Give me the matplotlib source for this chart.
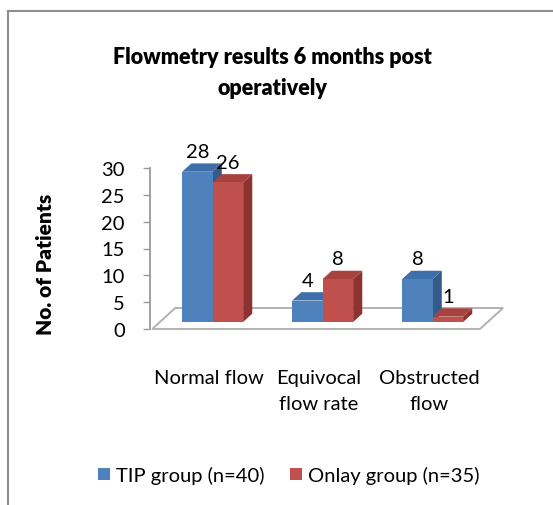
import matplotlib
matplotlib.use('Agg')
import matplotlib.pyplot as plt
from matplotlib.patches import Polygon, Patch
from matplotlib.lines import Line2D

plt.rcParams['font.family'] = ['Lato', 'DejaVu Sans']

categories = ['Normal flow', 'Equivocal\nflow rate', 'Obstructed\nflow']
tip_group = [28, 4, 8]
onlay_group = [26, 8, 1]
series_names = ['TIP group (n=40)', 'Onlay group (n=35)']
y_ticks = [0, 5, 10, 15, 20, 25, 30]

# face colours: front, top, side
colours = [('#4F81BD', '#3F6FA9', '#345A8A'),
           ('#C0504D', '#A8423F', '#8A3331')]

fig = plt.figure(figsize=(5.53, 5.06), dpi=100)
ax = fig.add_axes([150 / 553, 176 / 506, 363 / 553, 161 / 506])
ax.set_xlim(-0.5, 2.8)
ax.set_ylim(0, 30)

# fake 3d: depth of the floor in data units and where the bars sit in it
Dx, Dy = 23 / 110, 21 / (161 / 30)
f0, f1 = 0.333, 0.73
w = 0.277
sx, sy = (f1 - f0) * Dx, (f1 - f0) * Dy

# floor
fl, fr = -0.48, 2.5
floor = Polygon([(fl, 0), (fr, 0), (fr + Dx, Dy), (fl + Dx, Dy)], closed=True,
                facecolor='white', edgecolor='#b2b2b2', lw=1.4, zorder=1, clip_on=False)
ax.add_patch(floor)

for i in range(len(categories)):
    for j, vals in enumerate([tip_group, onlay_group]):
        v = vals[i]
        front, top, side = colours[j]
        x0 = i - w + j * w + f0 * Dx
        x1 = x0 + w
        y0 = f0 * Dy
        y1 = y0 + v
        ax.add_patch(Polygon([(x1, y0), (x1 + sx, y0 + sy), (x1 + sx, y1 + sy), (x1, y1)],
                             closed=True, facecolor=side, edgecolor='none', zorder=2, clip_on=False))
        ax.add_patch(Polygon([(x0, y1), (x1, y1), (x1 + sx, y1 + sy), (x0 + sx, y1 + sy)],
                             closed=True, facecolor=top, edgecolor='none', zorder=2, clip_on=False))
        ax.add_patch(Polygon([(x0, y0), (x1, y0), (x1, y1), (x0, y1)],
                             closed=True, facecolor=front, edgecolor='none', zorder=2, clip_on=False))
        ax.text((x0 + x1) / 2, y1 + 3.8, str(v), ha='center', va='center',
                fontsize=14.5, color='black', zorder=3)

for s in ['top', 'right', 'bottom']:
    ax.spines[s].set_visible(False)
ax.spines['left'].set_color('#9a9a9a')
ax.spines['left'].set_linewidth(1.3)
ax.set_yticks(y_ticks)
ax.tick_params(axis='y', direction='out', length=5, width=1, color='#9a9a9a',
               labelsize=14.5, pad=13)
ax.set_xticks([i + 0.035 for i in range(len(categories))])
ax.set_xticklabels(categories, fontsize=14.5, linespacing=1.6)
ax.tick_params(axis='x', length=0, pad=29)
ax.set_facecolor('none')

fig.text(46 / 553, 1 - 264 / 506, 'No. of Patients', rotation=90, ha='center', va='center',
         fontsize=15, fontweight='heavy')
fig.text(272 / 553, 1 - 73 / 506, 'Flowmetry results 6 months post\noperatively',
         ha='center', va='center', fontsize=15.5, fontweight='heavy', linespacing=1.55)

handles = [Patch(facecolor=colours[0][0]), Patch(facecolor=colours[1][0])]
fig.legend(handles, series_names, loc='center', bbox_to_anchor=(289 / 553, 1 - 476 / 506),
           ncol=2, frameon=False, fontsize=14.5, handlelength=0.6, handleheight=0.6,
           handletextpad=0.3, columnspacing=1.25, borderpad=0)

# chart border (only top and left edges fall inside the picture)
fig.add_artist(Line2D([8 / 553, 1], [1 - 12 / 506, 1 - 12 / 506], color='#8c8c8c', lw=1.5))
fig.add_artist(Line2D([8 / 553, 8 / 553], [0, 1 - 12 / 506], color='#8c8c8c', lw=1.5))

fig.savefig('out.png', dpi=100)
